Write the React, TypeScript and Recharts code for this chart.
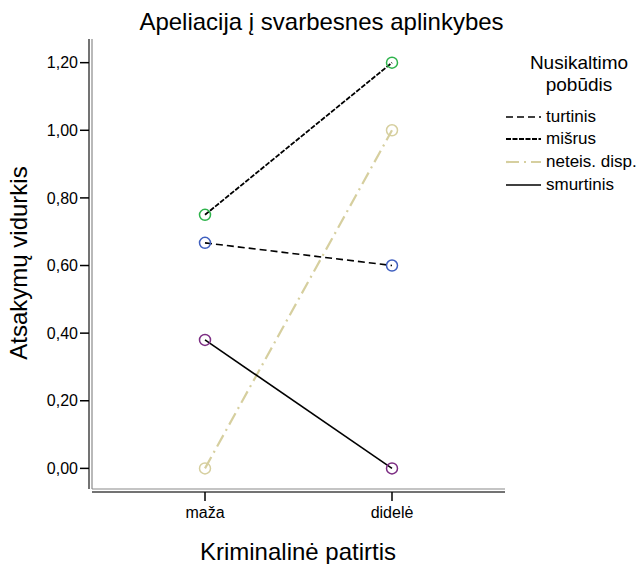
import React from 'react';
import { LineChart, Line, XAxis, YAxis, Legend } from 'recharts';

// Kriminalinė patirtis categories
const categories = ['maža', 'didelė'];

// series values (Atsakymų vidurkis)
const turtinis = [0.667, 0.6];
const misrus = [0.75, 1.2];
const neteisDisp = [0.0, 1.0];
const smurtinis = [0.38, 0.0];

const yTicks = [0, 0.2, 0.4, 0.6, 0.8, 1.0, 1.2];

const series = [
  { key: 'turtinis', name: 'turtinis', stroke: '#000', dash: '7 4', width: 1.6, dot: '#3f5fbf' },
  { key: 'misrus', name: 'mišrus', stroke: '#000', dash: '5 1.5', width: 1.8, dot: '#2db34b' },
  { key: 'neteis', name: 'neteis. disp.', stroke: '#d6cf9f', dash: '13 5 2 5', width: 2.2, dot: '#d6cf9f' },
  { key: 'smurtinis', name: 'smurtinis', stroke: '#000', dash: undefined, width: 1.6, dot: '#7c2d83' },
];

const data = categories.map((cat, i) => ({
  cat,
  turtinis: turtinis[i],
  misrus: misrus[i],
  neteis: neteisDisp[i],
  smurtinis: smurtinis[i],
}));

const font = '"Liberation Sans", Arial, sans-serif';

const fmt = (v: number) => v.toFixed(2).replace('.', ',');

const LegendBox = () => (
  <div style={{ fontFamily: font, color: '#000', width: 140 }}>
    <div style={{ textAlign: 'center', fontSize: 19, lineHeight: '22px', marginLeft: 8 }}>
      Nusikaltimo
      <br />
      pobūdis
    </div>
    <div style={{ marginTop: 11 }}>
      {series.map((s, i) => (
        <div key={s.key} style={{ display: 'flex', alignItems: 'center', height: i === 0 ? 20 : 23, fontSize: 17 }}>
          <svg width={38} height={10} style={{ marginRight: 3 }}>
            <line x1={1} y1={5} x2={36} y2={5} stroke={s.stroke} strokeWidth={s.width} strokeDasharray={s.dash} />
          </svg>
          <span>{s.name}</span>
        </div>
      ))}
    </div>
  </div>
);

const makeDot = (color: string) => (props: any) => {
  const { cx, cy, index } = props;
  if (cx == null || cy == null) return <g key={index} />;
  return <circle key={index} cx={cx} cy={cy} r={5.5} stroke={color} strokeWidth={1.5} fill="none" />;
};

export default function App() {
  return (
    <div style={{ position: 'absolute', left: 0, top: 0, width: 643, height: 564, background: '#fff' }}>
      <div
        style={{
          position: 'absolute',
          left: 0,
          width: 643,
          top: 8,
          textAlign: 'center',
          fontFamily: font,
          fontSize: 24,
          paddingRight: 4,
        }}
      >
        Apeliacija į svarbesnes aplinkybes
      </div>
      <div
        style={{
          position: 'absolute',
          left: 19,
          top: 263,
          transform: 'translate(-50%, -50%) rotate(-90deg)',
          whiteSpace: 'nowrap',
          fontFamily: font,
          fontSize: 24,
        }}
      >
        Atsakymų vidurkis
      </div>
      <div
        style={{
          position: 'absolute',
          left: 298,
          top: 552,
          transform: 'translate(-50%, -50%)',
          whiteSpace: 'nowrap',
          fontFamily: font,
          fontSize: 24,
        }}
      >
        Kriminalinė patirtis
      </div>
      <LineChart width={643} height={564} data={data} margin={{ top: 39, right: 138, bottom: 30, left: 27 }}>
        <XAxis
          xAxisId="main"
          dataKey="cat"
          padding={{ left: 113, right: 113 }}
          height={3}
          tick={false}
          tickLine={false}
          axisLine={{ stroke: '#8a8a8a', strokeWidth: 1.2 }}
        />
        <XAxis
          xAxisId="outer"
          dataKey="cat"
          padding={{ left: 113, right: 113 }}
          height={42}
          tickSize={9}
          tickMargin={6}
          tick={{ fill: '#000', fontSize: 16, fontFamily: font }}
          tickLine={{ stroke: '#000', strokeWidth: 1.5 }}
          axisLine={{ stroke: '#444', strokeWidth: 1.5 }}
        />
        <YAxis
          yAxisId="main"
          type="number"
          domain={[-0.061, 1.27]}
          ticks={yTicks}
          width={3}
          tick={false}
          tickLine={false}
          axisLine={{ stroke: '#8a8a8a', strokeWidth: 1.2 }}
        />
        <YAxis
          yAxisId="outer"
          type="number"
          domain={[-0.061, 1.27]}
          ticks={yTicks}
          allowDataOverflow
          width={62}
          tickSize={9}
          tickMargin={2}
          tickFormatter={fmt}
          tick={{ fill: '#000', fontSize: 16, fontFamily: font }}
          tickLine={{ stroke: '#000', strokeWidth: 1.5 }}
          axisLine={{ stroke: '#444', strokeWidth: 1.5 }}
        />
        <Legend
          layout="vertical"
          verticalAlign="middle"
          align="center"
          content={() => <LegendBox />}
          wrapperStyle={{ position: 'absolute', left: 505, top: 52, width: 140 }}
        />
        {series.map((s) => (
          <Line
            key={s.key}
            xAxisId="main"
            yAxisId="main"
            type="linear"
            dataKey={s.key}
            name={s.name}
            stroke={s.stroke}
            strokeWidth={s.width}
            strokeDasharray={s.dash}
            dot={makeDot(s.dot)}
            activeDot={false}
            isAnimationActive={false}
          />
        ))}
      </LineChart>
    </div>
  );
}
